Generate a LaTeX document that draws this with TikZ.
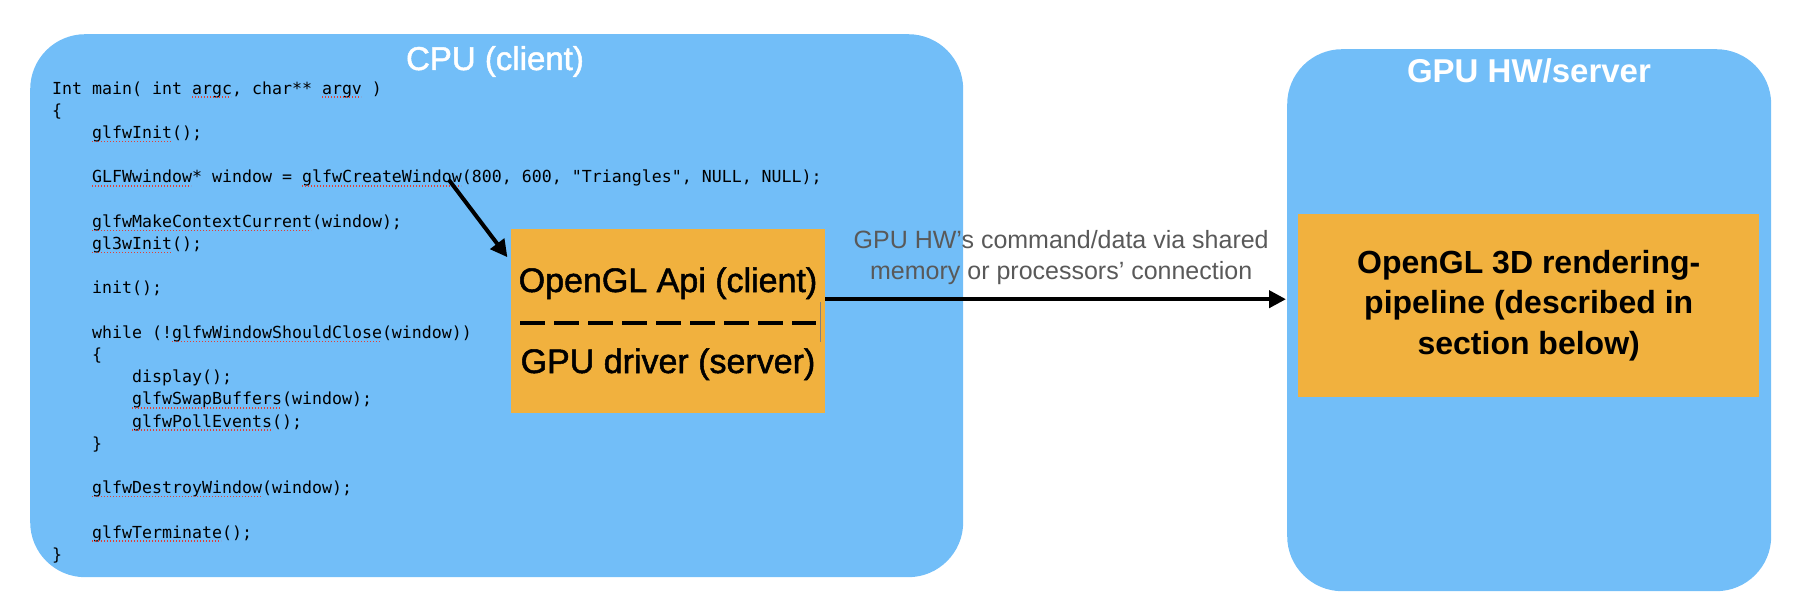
\documentclass[tikz,border=0pt]{standalone}
\usepackage{fontspec}
\setmainfont{Liberation Sans}
\setmonofont{DejaVu Sans Mono}
\newfontfamily\apifont[FakeBold=1.5]{Liberation Sans}
\usetikzlibrary{arrows.meta,positioning}

\definecolor{hwblue}{RGB}{114,190,248}
\definecolor{apiorange}{RGB}{241,177,62}
\definecolor{notegray}{RGB}{89,89,89}
\definecolor{spellred}{RGB}{226,64,52}

\begin{document}
\begin{tikzpicture}[x=1pt,y=-1pt,>={Triangle[length=17pt,width=17pt]},shorten >=1pt,
    side/.style={fill=hwblue,rounded corners=55pt,anchor=north west,inner sep=0pt},
    block/.style={fill=apiorange,anchor=north west,inner sep=0pt},
    head/.style={text=white,anchor=base,font=\apifont\fontsize{33}{40}\selectfont},
    code/.style={anchor=base west,inner sep=0pt,font=\ttfamily\fontsize{16.6}{22.2}\selectfont},
    spell/.style={spellred,line width=1.4pt,dash pattern=on 1.4pt off 1.6pt},
    fat arrow/.style={->,line width=4pt}]

    \useasboundingbox (0,0) rectangle (1794,610);

    % the two sides
    \node[side,minimum width=933pt,minimum height=543pt] (cpu) at (30,34) {};
    \node[side,minimum width=484pt,minimum height=542pt] (gpu) at (1287,49) {};
    \node[head] (cputitle) at (495,70) {CPU (client)};
    \node[head,font=\bfseries\fontsize{33}{40}\selectfont] (gputitle) at (1529,83) {GPU HW/server};

    % client program
    \foreach \n/\c/\t in {0/0/{Int main( int argc, char** argv )}, 1/0/\{,
        2/4/{glfwInit();},
        4/4/{GLFWwindow* window = glfwCreateWindow(800, 600, "Triangles", NULL, NULL);},
        6/4/{glfwMakeContextCurrent(window);}, 7/4/{gl3wInit();},
        9/4/{init();},
        11/4/{while (!glfwWindowShouldClose(window))}, 12/4/\{,
        13/8/{display();}, 14/8/{glfwSwapBuffers(window);}, 15/8/{glfwPollEvents();},
        16/4/\},
        18/4/{glfwDestroyWindow(window);},
        20/4/{glfwTerminate();}, 21/0/\}}
        \node[code] (line\n) at (52+10*\c,94+22.2*\n) {\t};
    \foreach \n/\c/\w in {0/14/4,0/27/4,2/4/8,4/4/10,4/25/16,6/4/22,7/4/8,
        11/12/21,14/8/15,15/8/14,18/4/17,20/4/13}
        \draw[spell] (52+10*\c,97+22.2*\n) -- ++(10*\w,0);

    % api / driver block
    \node[block,minimum width=314pt,minimum height=184pt] (api) at (511,229) {};
    \node[anchor=base,font=\apifont\fontsize{34}{40}\selectfont] (client) at (668,292) {OpenGL Api (client)};
    \node[anchor=base,font=\apifont\fontsize{34}{40}\selectfont] (server) at (668,373) {GPU driver (server)};
    \draw[line width=4pt,dash pattern=on 25pt off 9pt] (520,323) -- (817,323);
    \draw[gray,line width=1pt] (820,302) -- (820,343);

    \node[block,minimum width=461pt,minimum height=183pt,align=center,
        font=\bfseries\fontsize{32}{40.5}\selectfont] (pipeline) at (1298,214)
        {OpenGL 3D rendering-\\pipeline (described in\\section below)};

    % connectors
    \coordinate (callsite) at (449,180);
    \coordinate (txout) at ([yshift=22pt]api.east);
    \draw[fat arrow] (callsite) -- ([xshift=-3pt,yshift=-29pt]api.north west);
    \draw[fat arrow] (txout) -- (txout -| gpu.west)
        node[midway,above=12.5pt,inner sep=0pt,xshift=5pt,align=center,text=notegray,
        font=\fontsize{25}{31}\selectfont] (via)
        {GPU HW’s command/data via shared\\memory or processors’ connection};
\end{tikzpicture}
\end{document}
